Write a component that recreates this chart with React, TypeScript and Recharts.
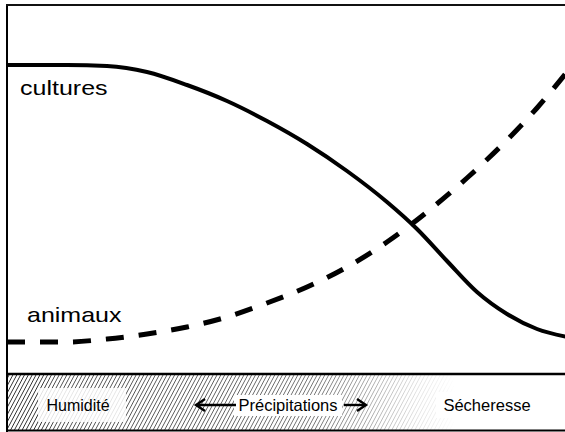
import React from 'react';
import { ComposedChart, Line, XAxis, YAxis, Customized } from 'recharts';

// position along the gradient (0..560) and level (0..369)
const culturesX = [0, 60, 100, 140, 180, 220, 260, 300, 340, 380, 410, 440, 470, 500, 530, 560];
const culturesY = [309, 309, 308, 302, 289, 273, 253, 230, 203, 172, 145, 113, 82, 60, 45, 37];
const animauxX = [0, 60, 100, 140, 180, 220, 260, 300, 340, 380, 420, 460, 500, 530, 560];
const animauxY = [32, 32, 35, 40, 47, 57, 71, 87, 107, 132, 162, 196, 234, 266, 302];
const seriesLabels = ['cultures', 'animaux'];
const bandLabels = ['Humidité', 'Précipitations', 'Sécheresse'];

const cultures = culturesX.map((x, i) => ({ x, y: culturesY[i] }));
const animaux = animauxX.map((x, i) => ({ x, y: animauxY[i] }));

const FONT = '"Liberation Sans", Arial, Helvetica, sans-serif';

const Decor = () => (
  <g>
    <defs>
      <pattern id="hatch" width="3.4" height="6" patternUnits="userSpaceOnUse" patternTransform="rotate(28)">
        <line x1="0" y1="0" x2="0" y2="6" stroke="#000" strokeWidth="1.4" />
      </pattern>
      <linearGradient id="fade" x1="0" x2="1" y1="0" y2="0">
        <stop offset="0" stopColor="#fff" />
        <stop offset="0.06" stopColor="#fff" />
        <stop offset="0.09" stopColor="#d8d8d8" />
        <stop offset="0.35" stopColor="#c8c8c8" />
        <stop offset="0.55" stopColor="#aaa" />
        <stop offset="0.65" stopColor="#666" />
        <stop offset="0.73" stopColor="#252525" />
        <stop offset="0.8" stopColor="#000" />
      </linearGradient>
      <mask id="fadeMask">
        <rect x="7" y="374" width="560" height="57" fill="url(#fade)" />
      </mask>
    </defs>
    <rect x="7" y="374" width="560" height="57" fill="url(#hatch)" mask="url(#fadeMask)" />
    <rect x="38" y="388" width="88" height="34" fill="#fff" opacity="0.85" />
    <rect x="234" y="395" width="108" height="21" fill="#fff" />
    <rect x="436" y="392" width="102" height="26" fill="#fff" />
    <text x="78" y="411" textAnchor="middle" fontFamily={FONT} fontSize="16" fill="#000">{bandLabels[0]}</text>
    <text x="288" y="411" textAnchor="middle" fontFamily={FONT} fontSize="16.5" fill="#000">{bandLabels[1]}</text>
    <text x="487" y="411" textAnchor="middle" fontFamily={FONT} fontSize="16.5" fill="#000">{bandLabels[2]}</text>
    <g stroke="#000" strokeWidth="2.4" fill="none">
      <path d="M197 405 L236 405" />
      <path d="M205 399 L196 405 L205 411" />
      <path d="M344 405 L365 405" />
      <path d="M357 399 L366 405 L357 411" />
    </g>
    <line x1="7" y1="374" x2="567" y2="374" stroke="#000" strokeWidth="2.4" />
    <line x1="7" y1="430.5" x2="567" y2="430.5" stroke="#000" strokeWidth="2" />
    <line x1="7" y1="4" x2="7" y2="432" stroke="#000" strokeWidth="2" />
    <line x1="6" y1="5" x2="567" y2="5" stroke="#111" strokeWidth="2" />
    <text transform="translate(20 95) scale(1.22 1)" fontFamily={FONT} fontSize="20.5" fill="#000">{seriesLabels[0]}</text>
    <text transform="translate(27 322) scale(1.22 1)" fontFamily={FONT} fontSize="20.5" fill="#000">{seriesLabels[1]}</text>
  </g>
);

export default function App() {
  return (
    <div style={{ position: 'absolute', left: 0, top: 0, width: 565, height: 432, overflow: 'hidden', background: '#fff' }}>
      <ComposedChart width={568} height={432} margin={{ top: 5, right: 1, left: 7, bottom: 58 }}>
        <XAxis type="number" dataKey="x" domain={[0, 560]} hide allowDataOverflow />
        <YAxis type="number" dataKey="y" domain={[0, 369]} hide allowDataOverflow />
        <Line data={cultures} dataKey="y" type="monotone" stroke="#000" strokeWidth={4} dot={false} isAnimationActive={false} />
        <Line data={animaux} dataKey="y" type="monotone" stroke="#000" strokeWidth={5} strokeDasharray="18 15" dot={false} isAnimationActive={false} />
        <Customized component={Decor} />
      </ComposedChart>
    </div>
  );
}
